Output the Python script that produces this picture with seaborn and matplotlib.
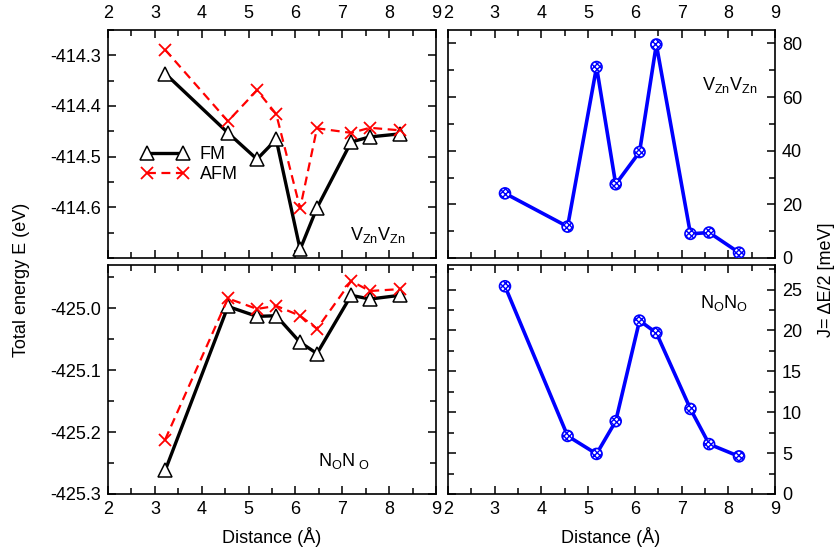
import matplotlib
matplotlib.use("Agg")
import matplotlib.pyplot as plt
import seaborn as sns
import numpy as np
import pandas as pd
from matplotlib.ticker import MultipleLocator, FixedLocator, FormatStrFormatter

# ---------------- data ----------------
distance = [3.22, 4.56, 5.18, 5.59, 6.10, 6.46, 7.19, 7.59, 8.23]

vzn_fm = [-414.336, -414.453, -414.505, -414.466, -414.683, -414.601, -414.471, -414.461, -414.455]
vzn_afm = [-414.289, -414.430, -414.369, -414.416, -414.602, -414.444, -414.453, -414.443, -414.448]
vzn_j = [24.1, 11.7, 71.2, 27.5, 39.5, 79.6, 9.0, 9.5, 2.0]

no_fm = [-425.262, -424.997, -425.013, -425.012, -425.055, -425.073, -424.979, -424.985, -424.979]
no_afm = [-425.212, -424.984, -425.001, -424.996, -425.012, -425.033, -424.956, -424.972, -424.969]
no_j = [25.4, 7.1, 4.9, 8.9, 21.2, 19.7, 10.4, 6.1, 4.6]

xticks = [2, 3, 4, 5, 6, 7, 8, 9]
yticks_vzn = [-414.6, -414.5, -414.4, -414.3]
yticks_no = [-425.3, -425.2, -425.1, -425.0]
yticks_jv = [0, 20, 40, 60, 80]
yticks_jn = [0, 5, 10, 15, 20, 25]

# ---------------- style ----------------
sns.set_style("ticks")
plt.rcParams["font.family"] = ["Liberation Sans", "DejaVu Sans"]
plt.rcParams["mathtext.fontset"] = "custom"
plt.rcParams["mathtext.rm"] = "Liberation Sans"
plt.rcParams["mathtext.it"] = "Liberation Sans"
plt.rcParams["axes.unicode_minus"] = False
plt.rcParams["hatch.color"] = "#0000ff"
plt.rcParams["hatch.linewidth"] = 1.0
for k in ("text.color", "axes.labelcolor", "xtick.color", "ytick.color", "axes.edgecolor"):
    plt.rcParams[k] = "black"
FS = 13

fig = plt.figure(figsize=(8.38, 5.53), dpi=100)
W, H = 838.0, 553.0

def add_ax(x0, y0, x1, y1):
    return fig.add_axes([x0 / W, 1 - y1 / H, (x1 - x0) / W, (y1 - y0) / H])

ax_tl = add_ax(108, 30, 436, 258)
ax_tr = add_ax(448, 30, 775, 258)
ax_bl = add_ax(108, 265, 436, 494)
ax_br = add_ax(448, 265, 775, 494)

for ax in (ax_tl, ax_tr, ax_bl, ax_br):
    ax.set_xlim(2, 9)
    ax.xaxis.set_major_locator(FixedLocator(xticks))
    ax.xaxis.set_minor_locator(MultipleLocator(0.5))
    ax.tick_params(which="both", direction="in", top=True, bottom=True,
                   left=True, right=True, labelsize=FS, width=1.1,
                   color="black", labelcolor="black")
    ax.tick_params(which="major", length=5.5, pad=5)
    ax.tick_params(which="minor", length=4)
    for s in ax.spines.values():
        s.set_linewidth(1.2)
        s.set_color("black")

for ax in (ax_tl, ax_tr):
    ax.tick_params(axis="x", labeltop=True, labelbottom=False, pad=6)
for ax in (ax_tr, ax_br):
    ax.tick_params(axis="y", labelleft=False, labelright=True)

fm_kw = dict(color="black", lw=2.4, marker="^", markersize=10,
             markerfacecolor="white", markeredgecolor="black", markeredgewidth=1.1)
afm_kw = dict(color="#ff0000", lw=1.6, linestyle=(0, (4, 2.5)), marker="x",
              markersize=8, markeredgecolor="#ff0000", markeredgewidth=1.3)

# ---- top-left: V_Zn V_Zn energies ----
sns.lineplot(x=distance, y=vzn_fm, ax=ax_tl, label="FM", **fm_kw)
sns.lineplot(x=distance, y=vzn_afm, ax=ax_tl, label="AFM", **afm_kw)
ax_tl.set_ylim(-414.7, -414.25)
ax_tl.yaxis.set_major_locator(FixedLocator(yticks_vzn))
ax_tl.yaxis.set_minor_locator(MultipleLocator(0.05))
ax_tl.yaxis.set_major_formatter(FormatStrFormatter("%.1f"))
ax_tl.legend(loc="center left", bbox_to_anchor=(0.076, 0.41), frameon=False,
             numpoints=2, handlelength=2.6, handletextpad=0.6, borderpad=0,
             labelspacing=0.15, fontsize=FS)
ax_tl.text(0.738, 0.079, r"$\mathrm{V_{Zn}V_{Zn}}$", transform=ax_tl.transAxes,
           fontsize=FS, ha="left", va="baseline")

# ---- bottom-left: N_O N_O energies ----
sns.lineplot(x=distance, y=no_fm, ax=ax_bl, legend=False, **fm_kw)
sns.lineplot(x=distance, y=no_afm, ax=ax_bl, legend=False, **afm_kw)
ax_bl.set_ylim(-425.3, -424.93)
ax_bl.yaxis.set_major_locator(FixedLocator(yticks_no))
ax_bl.yaxis.set_minor_locator(MultipleLocator(0.05))
ax_bl.yaxis.set_major_formatter(FormatStrFormatter("%.1f"))
ax_bl.text(0.641, 0.124, r"$\mathrm{N_{O}N_{\ O}}$", transform=ax_bl.transAxes,
           fontsize=FS, ha="left", va="baseline")

# ---- right panels: J ----
for ax, jv in ((ax_tr, vzn_j), (ax_br, no_j)):
    sns.lineplot(x=distance, y=jv, ax=ax, color="#0000ff", lw=2.6, legend=False)
    sns.scatterplot(x=distance, y=jv, ax=ax, s=62, color="white",
                    edgecolor="#0000ff", linewidth=1.2, hatch="xxxxxx",
                    zorder=3, legend=False)

ax_tr.set_ylim(0, 85)
ax_tr.yaxis.set_major_locator(FixedLocator(yticks_jv))
ax_tr.yaxis.set_minor_locator(MultipleLocator(10))
ax_tr.text(0.776, 0.737, r"$\mathrm{V_{Zn}V_{Zn}}$", transform=ax_tr.transAxes,
           fontsize=FS, ha="left", va="baseline")

ax_br.set_ylim(0, 28)
ax_br.yaxis.set_major_locator(FixedLocator(yticks_jn))
ax_br.yaxis.set_minor_locator(MultipleLocator(2.5))
ax_br.text(0.771, 0.811, r"$\mathrm{N_{O}N_{O}}$", transform=ax_br.transAxes,
           fontsize=FS, ha="left", va="baseline")

for ax in (ax_tl, ax_tr, ax_bl, ax_br):
    ax.set_xlabel("")
    ax.set_ylabel("")

# ---- axis labels ----
fig.text(22 / W, 1 - 280 / H, "Total energy E (eV)", rotation=90,
         ha="center", va="center", fontsize=FS)
fig.text(826 / W, 1 - 280 / H, "J= \u0394E/2 [meV]", rotation=90,
         ha="center", va="center", fontsize=FS)
fig.text(272 / W, 1 - 537 / H, "Distance (\u00c5)", ha="center", va="center", fontsize=FS)
fig.text(611 / W, 1 - 537 / H, "Distance (\u00c5)", ha="center", va="center", fontsize=FS)

fig.savefig("out.png", dpi=100)
